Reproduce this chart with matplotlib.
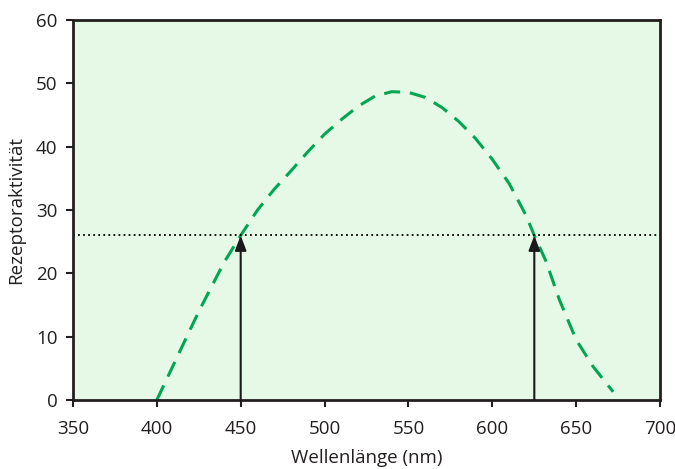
import matplotlib.pyplot as plt
import numpy as np

plt.rcParams['font.family'] = ['Open Sans', 'DejaVu Sans']

wavelength = [400, 410, 420, 426, 440, 450, 460, 470, 480, 490, 500, 510, 520,
              530, 540, 550, 560, 570, 580, 590, 600, 610, 620, 625, 632, 640,
              650, 660, 672]
activity = [0, 5.6, 11.2, 14.5, 21.7, 26, 30, 33.3, 36.2, 39.2, 42, 44.3, 46.4,
            48, 48.7, 48.6, 47.8, 46.2, 44, 41.3, 38, 34.2, 29.2, 26, 21.9, 15.8,
            9.5, 5.3, 1.3]
threshold = 26
marks = [450, 625]

fig = plt.figure(figsize=(6.75, 4.69), dpi=100)
ax = fig.add_axes([0.108, 0.147, 0.870, 0.810])
ax.set_facecolor('#e6f9e6')

ax.plot(wavelength, activity, color='#00a651', lw=2.2, dashes=(5.3, 3.2))
ax.axhline(threshold, color='black', lw=1.3, ls=(0, (1, 1.8)))
for m in marks:
    ax.annotate('', xy=(m, threshold), xytext=(m, 0),
                arrowprops=dict(arrowstyle='-|>,head_length=1.0,head_width=0.38',
                                color='#1a1a1a', lw=1.5,
                                mutation_scale=9, shrinkA=0, shrinkB=0))

ax.set_xlim(350, 700)
ax.set_ylim(0, 60)
ax.set_xticks(np.arange(350, 701, 50))
ax.set_yticks(np.arange(0, 61, 10))
ax.set_xlabel('Wellenlänge (nm)', fontsize=13.5, labelpad=8, color='#231f20')
ax.set_ylabel('Rezeptoraktivität', fontsize=13.5, labelpad=8, color='#231f20')
ax.tick_params(labelsize=13.5, length=5, width=1.5, direction='out',
               colors='#231f20')
ax.tick_params(axis='x', pad=9)
ax.tick_params(axis='y', pad=6)
for s in ax.spines.values():
    s.set_linewidth(2)
    s.set_color('#231f20')

fig.savefig('out.png', dpi=100)
